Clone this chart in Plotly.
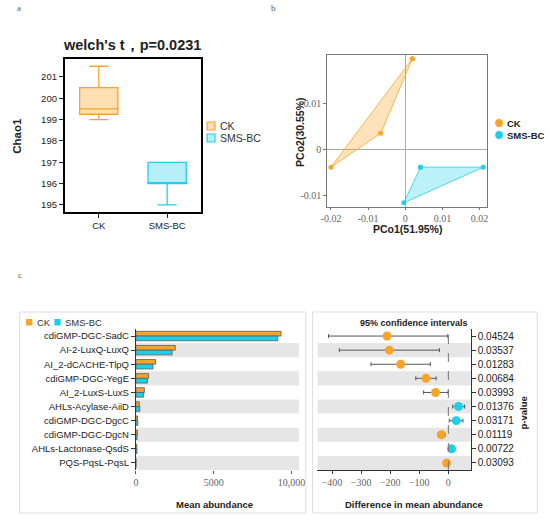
import plotly.graph_objects as go

W, H = 550, 521


def px(x):
    return x / W


def py(y):
    return 1 - y / H


ORANGE = "#F8A42A"
CYAN = "#1FCFEA"
ORANGE_FILL = "#FDDFB2"
CYAN_FILL = "#B5EEF8"
SANS = "Arial, Liberation Sans, sans-serif"
SERIF = "Times New Roman, Liberation Serif, serif"

# ---------------- Panel a: Chao1 box plot ----------------
groups = ["CK", "SMS-BC"]
chao_q1 = [199.25, 196.0]
chao_median = [199.5, 196.0]
chao_q3 = [200.5, 197.0]
chao_low = [199.0, 195.0]
chao_high = [201.5, 197.0]
chao_ticks = [195, 196, 197, 198, 199, 200, 201]

# ---------------- Panel b: PCoA ----------------
ck_pc1 = [0.0019, -0.0066, -0.0200]
ck_pc2 = [0.0196, 0.0035, -0.0038]
sms_pc1 = [0.0041, 0.0210, -0.0004]
sms_pc2 = [-0.0038, -0.0038, -0.0115]
pc1_ticks = [-0.02, -0.01, 0, 0.01, 0.02]
pc1_labels = ["-0.02", "-0.01", "0", "0.01", "0.02"]
pc2_ticks = [-0.01, 0, 0.01]
pc2_labels = ["-0.01", "0", "0.01"]

# ---------------- Panel c: mean abundance & differences ----------------
genes = ["cdiGMP-DGC-SadC", "AI-2-LuxQ-LuxQ", "AI_2-dCACHE-TlpQ", "cdiGMP-DGC-YegE",
         "AI_2-LuxS-LuxS", "AHLs-Acylase-AiiD", "cdiGMP-DGC-DgcC", "cdiGMP-DGC-DgcN",
         "AHLs-Lactonase-QsdS", "PQS-PqsL-PqsL"]
ck_mean = [9320, 2530, 1262, 820, 546, 218, 104, 103, 60, 10]
sms_mean = [9110, 2328, 1098, 743, 502, 252, 130, 79, 71, 4]
diff = [-211, -203, -164, -77, -44, 35, 27, -24, 11, -6]
ci_low = [-412, -375, -266, -112, -85, 15, 3, -37, 6, -11]
ci_high = [-2, -31, -62, -42, -1, 56, 50, -10, 18, -1]
p_values = ["0.04524", "0.03537", "0.01283", "0.00684", "0.03993",
            "0.01376", "0.03171", "0.01119", "0.00722", "0.03093"]
abund_ticks = [0, 5000, 10000]
abund_labels = ["0", "5000", "10,000"]
diff_ticks = [-400, -300, -200, -100, 0]

rows = list(range(len(genes)))

fig = go.Figure()

# Panel a boxes
for i, (g, lc, fc) in enumerate(zip(groups, [ORANGE, CYAN], [ORANGE_FILL, CYAN_FILL])):
    fig.add_trace(go.Box(
        x=[g], q1=[chao_q1[i]], median=[chao_median[i]], q3=[chao_q3[i]],
        lowerfence=[chao_low[i]], upperfence=[chao_high[i]],
        name=g, line=dict(color=lc, width=1.3), fillcolor=fc,
        width=0.56, whiskerwidth=0.5, boxpoints=False, showlegend=False,
        xaxis="x", yaxis="y", hoverinfo="skip"))

# Panel b polygons
for xs, ys, lc, fc, name in [
        (ck_pc1, ck_pc2, ORANGE, "rgba(248,164,42,0.32)", "CK"),
        (sms_pc1, sms_pc2, CYAN, "rgba(31,207,234,0.30)", "SMS-BC")]:
    fig.add_trace(go.Scatter(
        x=xs + [xs[0]], y=ys + [ys[0]], mode="lines+markers", fill="toself",
        fillcolor=fc, line=dict(color=lc, width=0.8), marker=dict(color=lc, size=5),
        name=name, showlegend=False, xaxis="x2", yaxis="y2"))

# Panel c bars
fig.add_trace(go.Bar(y=rows, x=ck_mean, orientation="h", name="CK",
                     marker=dict(color=ORANGE, line=dict(color="#5a5a5a", width=0.8)),
                     showlegend=False, xaxis="x3", yaxis="y3"))
fig.add_trace(go.Bar(y=rows, x=sms_mean, orientation="h", name="SMS-BC",
                     marker=dict(color=CYAN, line=dict(color="#5a5a5a", width=0.8)),
                     showlegend=False, xaxis="x3", yaxis="y3"))

# Panel c differences with CI
fig.add_trace(go.Scatter(
    x=diff, y=rows, mode="markers",
    marker=dict(color=[ORANGE if d < 0 else CYAN for d in diff], size=9),
    error_x=dict(type="data", symmetric=False,
                 array=[h - d for h, d in zip(ci_high, diff)],
                 arrayminus=[d - l for l, d in zip(ci_low, diff)],
                 color="#555555", thickness=1, width=2),
    showlegend=False, xaxis="x4", yaxis="y4"))

shapes = []
# alternating grey bands
for i in rows:
    if i % 2 == 1:
        for xr, yr in [("x3 domain", "y3"), ("x4 domain", "y4")]:
            shapes.append(dict(type="rect", xref=xr, yref=yr,
                               x0=0, x1=1, y0=i - 0.5, y1=i + 0.5,
                               fillcolor="#E6E6E6", line=dict(width=0), layer="below"))
# dashed zero line
shapes.append(dict(type="line", xref="x4", yref="y4 domain", x0=0, x1=0, y0=0, y1=1,
                   line=dict(color="#777777", width=1, dash="dash")))
# panel c frames
for x0, x1 in [(13, 306), (313, 543)]:
    shapes.append(dict(type="rect", xref="paper", yref="paper",
                       x0=px(x0), x1=px(x1), y0=py(513), y1=py(312),
                       line=dict(color="#DDDDDD", width=1), fillcolor="rgba(0,0,0,0)"))

annotations = []


def txt(t, x, y, size, color="#222222", family=SANS, bold=False, angle=0, xanchor="center"):
    annotations.append(dict(text=f"<b>{t}</b>" if bold else t, x=px(x), y=py(y),
                            xref="paper", yref="paper", showarrow=False,
                            xanchor=xanchor, yanchor="middle", textangle=angle,
                            font=dict(size=size, color=color, family=family)))


# legend a (manual)
for (lab, lc, fc, yy) in [(groups[0], ORANGE, ORANGE_FILL, 126), (groups[1], CYAN, CYAN_FILL, 138)]:
    shapes.append(dict(type="rect", xref="paper", yref="paper", x0=px(205), x1=px(213),
                       y0=py(yy + 4), y1=py(yy - 4), fillcolor=fc, line=dict(color=lc, width=1.2)))
    txt(lab, 216.5, yy, 10.5, color="#333333", xanchor="left")
# legend b (manual)
for (lab, lc, yy) in [(groups[0], ORANGE, 123), (groups[1], CYAN, 135)]:
    shapes.append(dict(type="circle", xref="paper", yref="paper", x0=px(500), x1=px(508),
                       y0=py(yy + 4), y1=py(yy - 4), fillcolor=lc, line=dict(color=lc, width=0)))
    txt(lab, 510, yy, 9.5, color="#222222", bold=True, xanchor="left")
# legend c (manual)
for (lab, col, x0) in [(groups[0], ORANGE, 19.5), (groups[1], CYAN, 48.5)]:
    shapes.append(dict(type="rect", xref="paper", yref="paper", x0=px(x0), x1=px(x0 + 6.5),
                       y0=py(325.5), y1=py(319), fillcolor=col, line=dict(width=0)))
    txt(lab, x0 + 9, 322, 9.5, color="#333333", xanchor="left")

txt("a", 12.5, 8, 9, color="#555555", family=SERIF)
txt("b", 273, 8, 9, color="#555555", family=SERIF)
txt("c", 13, 275, 9, color="#555555", family=SERIF)
txt("welch's t，p=0.0231", 128, 45, 14.5, color="#222222", bold=True)
txt("Chao1", 10, 136, 11.5, bold=True, angle=-90)
txt("PCo1(51.95%)", 410, 228.5, 10.5, bold=True)
txt("PCo2(30.55%)", 300, 132, 10.5, bold=True, angle=-90)
txt("95% confidence intervals", 417, 323, 9, bold=True)
txt("Mean abundance", 213, 504, 9.5, bold=True)
txt("Difference in mean abundance", 417, 504, 9.5, bold=True)
txt("p-value", 528, 413, 9.5, bold=True, angle=-90)

serif_tick = dict(family=SERIF, size=10, color="#666666")
sans_tick = dict(family=SANS, size=9.5, color="#222222")

fig.update_layout(
    width=W, height=H, margin=dict(l=0, r=0, t=0, b=0),
    paper_bgcolor="white", plot_bgcolor="rgba(0,0,0,0)",
    barmode="group", bargap=0.33, bargroupgap=0,
    showlegend=False, shapes=shapes, annotations=annotations,
    xaxis=dict(domain=[px(59), px(199)], anchor="y", type="category",
               categoryorder="array", categoryarray=groups, range=[-0.5, 1.5],
               showline=True, mirror=True, linecolor="black", linewidth=1.5,
               ticks="outside", ticklen=4, tickcolor="#222", tickfont=sans_tick,
               showgrid=False, zeroline=False),
    yaxis=dict(domain=[py(212), py(59)], anchor="x", range=[194.67, 201.84],
               tickvals=chao_ticks, showline=True, mirror=True, linecolor="black",
               linewidth=1.5, ticks="outside", ticklen=4, tickcolor="#222",
               tickfont=sans_tick, showgrid=False, zeroline=False),
    xaxis2=dict(domain=[px(328), px(492)], anchor="y2", range=[-0.021, 0.0221],
                tickvals=pc1_ticks, ticktext=pc1_labels, showline=True, mirror=True,
                linecolor="#777777", linewidth=1, ticks="outside", ticklen=2,
                tickcolor="#777777", tickfont=serif_tick, showgrid=False,
                zeroline=True, zerolinecolor="#AAAAAA", zerolinewidth=1),
    yaxis2=dict(domain=[py(207), py(55)], anchor="x2", range=[-0.0124, 0.0204],
                tickvals=pc2_ticks, ticktext=pc2_labels, showline=True, mirror=True,
                linecolor="#777777", linewidth=1, ticks="outside", ticklen=3,
                tickcolor="#777777", tickfont=serif_tick, showgrid=False,
                zeroline=True, zerolinecolor="#AAAAAA", zerolinewidth=1),
    xaxis3=dict(domain=[px(132), px(299)], anchor="y3", range=[0, 10470],
                tickvals=abund_ticks, ticktext=abund_labels, showline=False,
                ticks="outside", ticklen=3, tickcolor="#555555", tickfont=serif_tick,
                showgrid=False, zeroline=False),
    yaxis3=dict(domain=[py(470), py(329)], anchor="x3", range=[9.5, -0.5],
                tickvals=rows, ticktext=genes, showline=True, linecolor="#333333",
                linewidth=1, ticks="outside", ticklen=4, tickcolor="#333333",
                tickfont=sans_tick, showgrid=False, zeroline=False),
    xaxis4=dict(domain=[px(318), px(475)], anchor="y4", range=[-450, 77],
                tickvals=diff_ticks, showline=True, linecolor="#333333", linewidth=1,
                ticks="outside", ticklen=3, tickcolor="#333333", tickfont=serif_tick,
                showgrid=False, zeroline=False),
    yaxis4=dict(domain=[py(470), py(329)], anchor="x4", side="right", range=[9.5, -0.5],
                tickvals=rows, ticktext=p_values, showline=True, linecolor="#333333",
                linewidth=1, ticks="outside", ticklen=4, tickcolor="#333333",
                tickfont=dict(family=SANS, size=10, color="#222222"),
                showgrid=False, zeroline=False),
)

fig.write_html("out.html", config={"displayModeBar": False},
               post_script="document.body.style.margin='0';")
